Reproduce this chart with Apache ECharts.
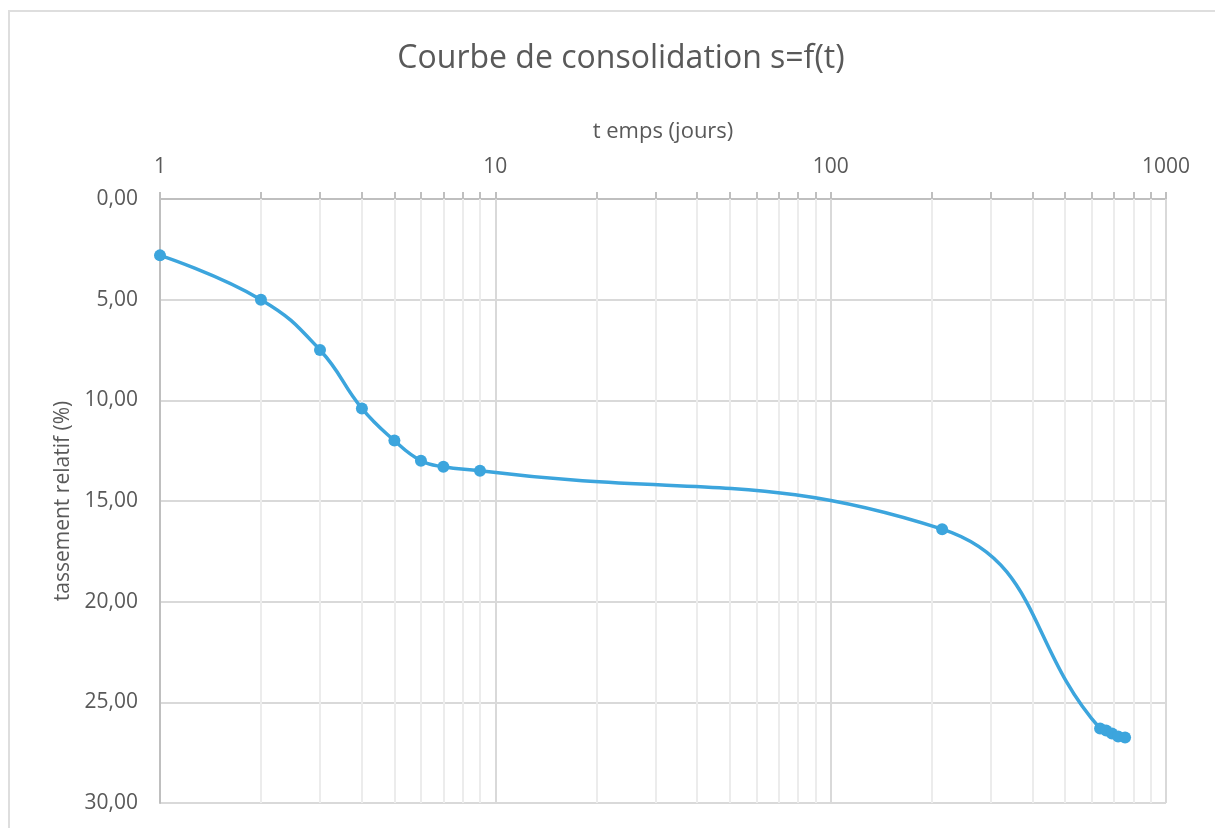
<!DOCTYPE html>
<html>
<head>
<meta charset="utf-8">
<script src="https://cdn.jsdelivr.net/npm/echarts@6/dist/echarts.min.js"></script>
<style>html,body{margin:0;padding:0;background:#fff;}#c{width:1215px;height:828px;}</style>
</head>
<body>
<div id="c"></div>
<script>
const timeDays = [1, 2, 3, 4, 5, 6, 7, 9, 215, 636, 663, 690, 720, 755];
const settlement = [2.8, 5.0, 7.5, 10.4, 12.0, 13.0, 13.3, 13.5, 16.4, 26.3, 26.4, 26.55, 26.7, 26.75];
const majorTicks = [1, 10, 100, 1000];
const minorTicks = [2,3,4,5,6,7,8,9,20,30,40,50,60,70,80,90,200,300,400,500,600,700,800,900];
const allTicks = [1,2,3,4,5,6,7,8,9,10,20,30,40,50,60,70,80,90,100,200,300,400,500,600,700,800,900,1000];

const FONT = "'Open Sans', 'Noto Sans', sans-serif";
const chart = echarts.init(document.getElementById('c'));
chart.setOption({
  animation: false,
  backgroundColor: '#ffffff',
  graphic: [{
    type: 'rect', silent: true, z: -10,
    shape: { x: 9, y: 11, width: 1220, height: 830 },
    style: { fill: 'none', stroke: '#dedede', lineWidth: 2 }
  }],
  title: {
    text: 'Courbe de consolidation s=f(t)',
    left: 616, top: 38, textAlign: 'center',
    textStyle: { fontFamily: FONT, fontSize: 32, fontWeight: 'normal', color: '#595959' }
  },
  grid: { left: 160, top: 199, right: 49, bottom: 25, containLabel: false },
  xAxis: {
    type: 'log', logBase: 10, min: 1, max: 1000, position: 'top',
    name: 't emps (jours)', nameLocation: 'middle', nameGap: 56,
    nameTextStyle: { fontFamily: FONT, fontSize: 22, color: '#595959' },
    axisLine: { show: true, lineStyle: { color: '#bfbfbf', width: 2 } },
    axisTick: { show: true, length: 7, customValues: allTicks, lineStyle: { color: '#bfbfbf', width: 2 } },
    axisLabel: { customValues: majorTicks, margin: 21, fontFamily: FONT, fontSize: 21, color: '#595959',
      formatter: v => String(Math.round(v)) },
    splitLine: { show: false }
  },
  yAxis: {
    type: 'value', inverse: true, min: 0, max: 30, interval: 5,
    name: 'tassement relatif (%)', nameLocation: 'middle', nameGap: 86, nameRotate: 90,
    nameTextStyle: { fontFamily: FONT, fontSize: 21, color: '#595959' },
    axisLine: { show: true, lineStyle: { color: '#bfbfbf', width: 2 } },
    axisTick: { show: false },
    axisLabel: {
      margin: 22, fontFamily: FONT, fontSize: 21, color: '#595959',
      formatter: v => v.toFixed(2).replace('.', ',')
    },
    splitLine: { show: true, lineStyle: { color: '#d9d9d9', width: 2 } }
  },
  series: [
    {
      type: 'line', data: [], z: 1, silent: true,
      markLine: {
        silent: true, symbol: 'none', label: { show: false },
        lineStyle: { color: '#ececec', width: 2, type: 'solid' },
        data: minorTicks.map(v => ({ xAxis: v }))
      }
    },
    {
      type: 'line', data: [], z: 1, silent: true,
      markLine: {
        silent: true, symbol: 'none', label: { show: false },
        lineStyle: { color: '#d9d9d9', width: 2, type: 'solid' },
        data: majorTicks.slice(1).map(v => ({ xAxis: v }))
      }
    },
    {
      type: 'line', z: 5,
      data: timeDays.map((t, i) => [t, settlement[i]]),
      smooth: 0.45,
      symbol: 'circle', symbolSize: 12,
      lineStyle: { color: '#3ca5dd', width: 3.5 },
      itemStyle: { color: '#3ca5dd' }
    }
  ]
});
</script>
</body>
</html>
